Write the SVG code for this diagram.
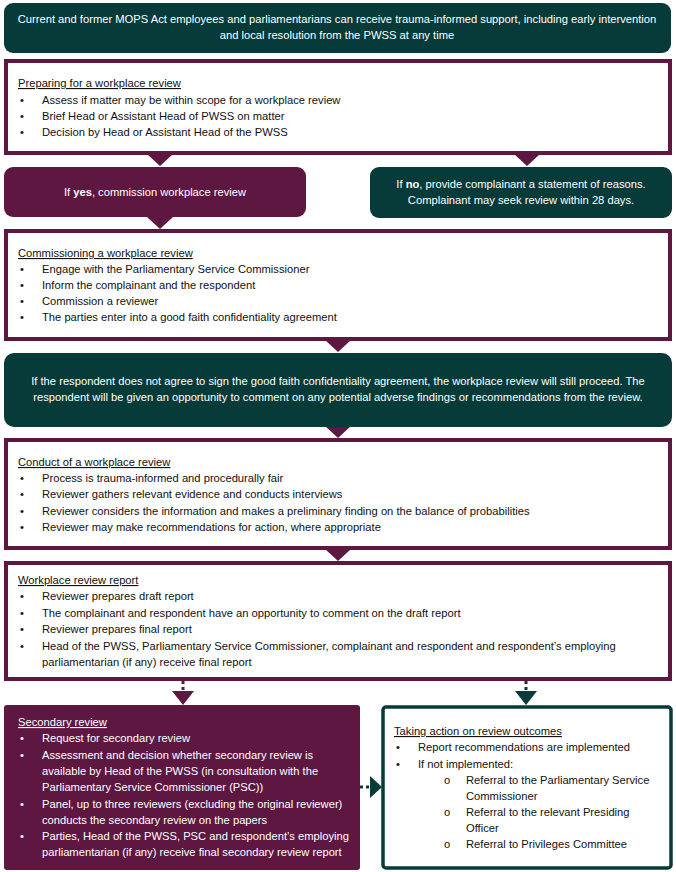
<svg xmlns="http://www.w3.org/2000/svg" width="676" height="872" viewBox="0 0 676 872">
<style>
text{font-family:"Liberation Sans",Arial,sans-serif;font-size:11.2px;fill:#111}
.w{fill:#fff}
.c{text-anchor:middle}
.t{text-decoration:underline}
.teal{fill:#063b39}
.mar{fill:#5d1740}
.box{fill:#fff;stroke:#5d1740;stroke-width:4}
.tbox{fill:#fff;stroke:#063b39;stroke-width:3.5}
.dot{stroke-width:3;stroke-dasharray:3 3;fill:none}
</style>
<rect width="676" height="872" fill="#fff"/>
<g id="connectors">
<polygon class="mar" points="147,154 173,154 160,166"/>
<polygon class="mar" points="514,154 540,154 527,166"/>
<polygon class="mar" points="147,217 173,217 160,229"/>
<polygon class="mar" points="325,340 351,340 338,352"/>
<polygon class="mar" points="325,426 351,426 338,438"/>
<polygon class="mar" points="325,549 351,549 338,561"/>
<line class="dot" x1="183" y1="681" x2="183" y2="692" stroke="#5d1740"/>
<polygon class="mar" points="172,691 194,691 183,705"/>
<line class="dot" x1="526" y1="681" x2="526" y2="692" stroke="#063b39"/>
<polygon class="teal" points="515,691 537,691 526,705"/>
<line class="dot" x1="360" y1="787" x2="372" y2="787" stroke="#063b39"/>
<polygon class="teal" points="370,776 370,798 382,787"/>
</g>
<g id="intro">
<rect class="teal" x="4" y="3" width="667" height="50" rx="9"/>
<text class="w c" x="337" y="23">Current and former MOPS Act employees and parliamentarians can receive trauma-informed support, including early intervention</text>
<text class="w c" x="337" y="39">and local resolution from the PWSS at any time</text>
</g>
<g id="preparing">
<rect class="box" x="6" y="61" width="664" height="92"/>
<text class="t" x="18" y="87">Preparing for a workplace review</text>
<text x="20" y="104">•</text><text x="42" y="104">Assess if matter may be within scope for a workplace review</text>
<text x="20" y="120">•</text><text x="42" y="120">Brief Head or Assistant Head of PWSS on matter</text>
<text x="20" y="136">•</text><text x="42" y="136">Decision by Head or Assistant Head of the PWSS</text>
</g>
<g id="yes">
<rect class="mar" x="4" y="167" width="302" height="50" rx="9"/>
<text class="w c" x="155" y="196">If <tspan font-weight="bold" fill="#fff">yes</tspan>, commission workplace review</text>
</g>
<g id="no">
<rect class="teal" x="370" y="167" width="302" height="51" rx="9"/>
<text class="w c" x="521" y="188">If <tspan font-weight="bold" fill="#fff">no</tspan>, provide complainant a statement of reasons.</text>
<text class="w c" x="521" y="204">Complainant may seek review within 28 days.</text>
</g>
<g id="commissioning">
<rect class="box" x="6" y="231" width="664" height="108"/>
<text class="t" x="18" y="257">Commissioning a workplace review</text>
<text x="20" y="273">•</text><text x="42" y="273">Engage with the Parliamentary Service Commissioner</text>
<text x="20" y="289">•</text><text x="42" y="289">Inform the complainant and the respondent</text>
<text x="20" y="305">•</text><text x="42" y="305">Commission a reviewer</text>
<text x="20" y="321">•</text><text x="42" y="321">The parties enter into a good faith confidentiality agreement</text>
</g>
<g id="confidentiality">
<rect class="teal" x="4" y="353" width="668" height="74" rx="10"/>
<text class="w c" x="338" y="385">If the respondent does not agree to sign the good faith confidentiality agreement, the workplace review will still proceed. The</text>
<text class="w c" x="338" y="401">respondent will be given an opportunity to comment on any potential adverse findings or recommendations from the review.</text>
</g>
<g id="conduct">
<rect class="box" x="6" y="440" width="664" height="108"/>
<text class="t" x="18" y="466">Conduct of a workplace review</text>
<text x="20" y="482">•</text><text x="42" y="482">Process is trauma-informed and procedurally fair</text>
<text x="20" y="498">•</text><text x="42" y="498">Reviewer gathers relevant evidence and conducts interviews</text>
<text x="20" y="515">•</text><text x="42" y="515">Reviewer considers the information and makes a preliminary finding on the balance of probabilities</text>
<text x="20" y="531">•</text><text x="42" y="531">Reviewer may make recommendations for action, where appropriate</text>
</g>
<g id="report">
<rect class="box" x="6" y="563" width="664" height="116"/>
<text class="t" x="18" y="584">Workplace review report</text>
<text x="20" y="600">•</text><text x="42" y="600">Reviewer prepares draft report</text>
<text x="20" y="617">•</text><text x="42" y="617">The complainant and respondent have an opportunity to comment on the draft report</text>
<text x="20" y="633">•</text><text x="42" y="633">Reviewer prepares final report</text>
<text x="20" y="650">•</text><text x="42" y="650">Head of the PWSS, Parliamentary Service Commissioner, complainant and respondent and respondent’s employing</text>
<text x="42" y="666">parliamentarian (if any) receive final report</text>
</g>
<g id="secondary">
<rect class="mar" x="4" y="705" width="356" height="165" rx="3"/>
<text class="w t" x="18" y="726">Secondary review</text>
<text class="w" x="20" y="742">•</text><text class="w" x="42" y="742">Request for secondary review</text>
<text class="w" x="20" y="759">•</text><text class="w" x="42" y="759">Assessment and decision whether secondary review is</text>
<text class="w" x="42" y="775">available by Head of the PWSS (in consultation with the</text>
<text class="w" x="42" y="791">Parliamentary Service Commissioner (PSC))</text>
<text class="w" x="20" y="808">•</text><text class="w" x="42" y="808">Panel, up to three reviewers (excluding the original reviewer)</text>
<text class="w" x="42" y="824">conducts the secondary review on the papers</text>
<text class="w" x="20" y="840">•</text><text class="w" x="42" y="840">Parties, Head of the PWSS, PSC and respondent’s employing</text>
<text class="w" x="42" y="856">parliamentarian (if any) receive final secondary review report</text>
</g>
<g id="action">
<rect class="tbox" x="383" y="707" width="288" height="161" rx="3"/>
<text class="t" x="394" y="735">Taking action on review outcomes</text>
<text x="396" y="751">•</text><text x="418" y="751">Report recommendations are implemented</text>
<text x="396" y="768">•</text><text x="418" y="768">If not implemented:</text>
<text x="444" y="784">o</text><text x="466" y="784">Referral to the Parliamentary Service</text>
<text x="466" y="800">Commissioner</text>
<text x="444" y="816">o</text><text x="466" y="816">Referral to the relevant Presiding</text>
<text x="466" y="832">Officer</text>
<text x="444" y="848">o</text><text x="466" y="848">Referral to Privileges Committee</text>
</g>
</svg>
